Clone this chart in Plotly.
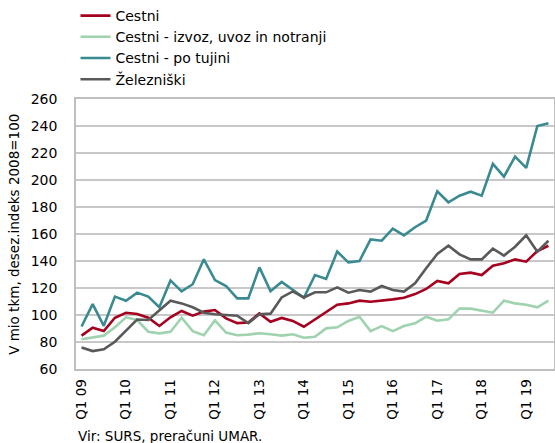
import plotly.graph_objects as go

quarters = [f"Q{q} {y:02d}" for y in range(9, 20) for q in range(1, 5)][:43]
tick_labels = ["Q1 09", "Q1 10", "Q1 11", "Q1 12", "Q1 13", "Q1 14", "Q1 15", "Q1 16", "Q1 17", "Q1 18", "Q1 19"]

cestni = [84.7, 90.6, 88.1, 98.0, 101.7, 100.7, 98.0, 91.9, 98.3, 103.0, 99.5, 102.5, 103.7, 97.5, 94.0,
          94.5, 101.2, 95.0, 97.8, 95.6, 91.3, 96.8, 102.0, 107.6, 108.6, 110.6, 109.8, 110.6, 111.6, 112.8,
          115.5, 119.3, 125.2, 123.5, 130.4, 131.4, 129.6, 136.5, 138.3, 141.2, 139.5, 147.4, 151.3]
cestni_ium = [82.0, 83.5, 84.7, 90.9, 98.3, 96.3, 87.6, 86.4, 87.6, 98.0, 88.0, 85.0, 96.0, 87.0, 85.0,
              85.5, 86.5, 85.7, 84.7, 85.7, 83.2, 83.9, 90.1, 90.9, 95.6, 98.7, 88.1, 91.8, 88.1, 91.8,
              93.8, 98.7, 95.8, 96.8, 104.7, 104.7, 103.0, 101.7, 110.6, 108.6, 107.6, 105.7, 110.6]
cestni_tujina = [91.5, 108.0, 92.0, 113.6, 110.6, 116.6, 113.6, 105.7, 125.6, 117.5, 122.8, 141.3, 125.9,
                 121.5, 112.3, 112.3, 135.3, 117.6, 124.5, 118.5, 112.8, 129.6, 126.7, 147.0, 139.0, 140.0,
                 156.0, 155.0, 164.0, 159.0, 165.0, 170.0, 191.6, 183.5, 188.4, 191.3, 188.4, 212.0, 202.5,
                 217.3, 209.0, 240.0, 242.0]
zelezniski = [76.0, 73.3, 74.6, 80.2, 88.4, 96.7, 96.3, 103.7, 110.6, 108.6, 105.7, 101.7, 100.5, 100.0,
              99.5, 94.0, 100.5, 101.0, 113.0, 117.5, 113.0, 116.8, 116.8, 120.5, 116.5, 118.5, 117.3, 121.5,
              118.5, 117.3, 123.5, 134.6, 145.2, 151.3, 144.9, 141.2, 141.2, 149.1, 144.0, 150.6, 159.0,
              146.9, 155.0]

series = [
    ("Cestni", cestni, "#A6001F"),
    ("Cestni - izvoz, uvoz in notranji", cestni_ium, "#9FD2AE"),
    ("Cestni - po tujini", cestni_tujina, "#3A8A91"),
    ("Železniški", zelezniski, "#595959"),
]

x_idx = list(range(len(quarters)))
fig = go.Figure()
for name, vals, col in series:
    fig.add_trace(go.Scatter(x=x_idx, y=vals, mode="lines", name=name,
                             line=dict(color=col, width=2.6), hovertext=quarters))

FONT = "DejaVu Sans"
fig.update_layout(
    width=555, height=443,
    margin=dict(l=76, r=1, t=99, b=74, autoexpand=False),
    paper_bgcolor="white", plot_bgcolor="white",
    font=dict(family=FONT, size=14, color="#000000"),
    showlegend=True,
    legend=dict(xref="container", yref="container", x=0.136, y=1.0,
                xanchor="left", yanchor="top",
                bgcolor="rgba(0,0,0,0)", font=dict(size=14),
                tracegroupgap=0, itemwidth=30),
    xaxis=dict(range=[-0.5, len(quarters) - 0.5],
               tickmode="array", tickvals=[i * 4 for i in range(len(tick_labels))],
               ticktext=tick_labels, tickangle=-90, ticklabelstandoff=3,
               showgrid=False, showline=True, linecolor="#BFBFBF", linewidth=1.5,
               mirror=True, ticks="", zeroline=False, tickfont=dict(size=13.5)),
    yaxis=dict(range=[60, 260], dtick=20, tick0=60,
               showgrid=True, gridcolor="#C8C8C8", gridwidth=1.5,
               showline=True, linecolor="#BFBFBF", linewidth=1.5, mirror=True,
               ticks="", zeroline=False, tickfont=dict(size=14), ticklabelstandoff=14),
    annotations=[
        dict(text="V mio tkm, desez.indeks 2008=100", xref="paper", yref="paper",
             x=-0.13, y=0.5, xanchor="center", yanchor="middle", textangle=-90,
             showarrow=False, font=dict(size=13.5)),
        dict(text="Vir: SURS, preračuni UMAR.", xref="paper", yref="paper",
             x=0.0, y=-0.248, xanchor="left", yanchor="middle",
             showarrow=False, font=dict(size=13.5)),
    ],
)

fig.write_html("out.html", config={"displayModeBar": False},
               post_script="document.body.style.margin='0';document.body.style.overflow='hidden';")
